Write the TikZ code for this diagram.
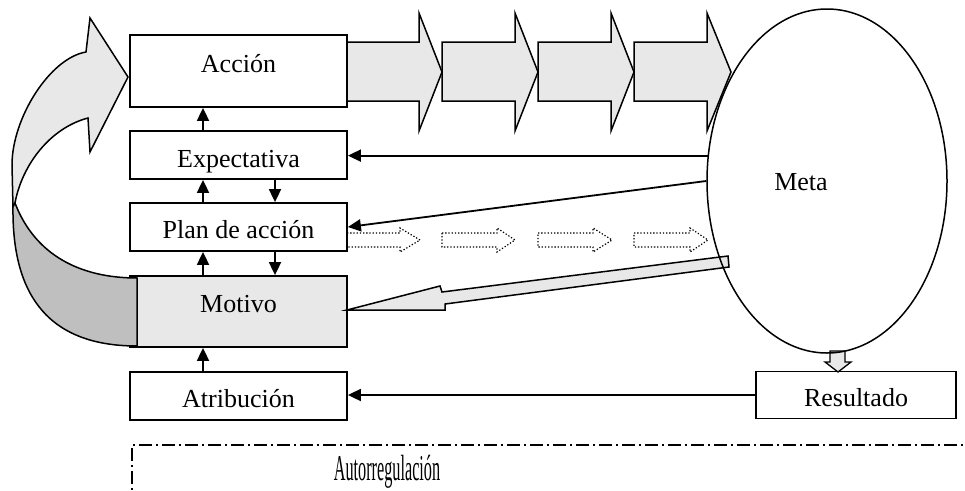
\documentclass[tikz,border=0pt]{standalone}
\usepackage{fontspec}
\setmainfont{Liberation Serif}
\usetikzlibrary{shapes.geometric,arrows.meta}
\definecolor{lightg}{HTML}{E8E8E8}
\definecolor{darkg}{HTML}{BFBFBF}
\begin{document}
\begin{tikzpicture}[x=1pt,y=-1pt,
  txt/.style={font=\fontsize{26}{28}\selectfont},
  box/.style={txt,draw,line width=1.8pt,fill=white,minimum width=217pt,inner sep=0pt},
  conn/.style={line width=1.8pt,-{Triangle[length=13pt,width=12pt]}},
  blockarrow/.style={draw,line width=1.5pt,fill=lightg,line join=miter},
  dotarrow/.style={draw,line width=1.2pt,dash pattern=on 1.3pt off 1.9pt},
  dashdot/.style={line width=1.5pt,dash pattern=on 13pt off 4pt on 2pt off 4pt}]
\useasboundingbox (0,0) rectangle (965,490);

% top chain of block arrows
\foreach \xa/\xb/\xc in {347/419/442, 442/515/538, 538/611/634, 634/707/731}{
  \path[blockarrow] (\xa,42) -- (\xb,42) -- (\xb,13) -- (\xc,72) -- (\xb,131) -- (\xb,101) -- (\xa,101) -- cycle;
}

% boxes
\node[box,minimum height=72pt,text height=20pt,text depth=18pt] (accion) at (238.5,71) {Acción};
\node[box,minimum height=48pt,text height=30pt,text depth=6pt] (expect) at (238.5,155) {Expectativa};
\node[box,minimum height=48pt,text height=28pt,text depth=6pt] (plan) at (238.5,227) {Plan de acción};
\node[box,fill=lightg,minimum height=71pt,text height=20pt,text depth=19pt] (motivo) at (238.5,311.5) {Motivo};
\node[box,minimum height=48pt,text height=28pt,text depth=6pt] (atrib) at (238.5,396) {Atribución};
\node[box,minimum width=200pt,minimum height=47pt,text height=28pt,text depth=6pt] (result) at (856,395) {Resultado};

% curved arrow on the left (light front face)
\path[draw,line width=1.5pt,fill=lightg,line join=miter]
  (128,77) -- (90,18) -- (86,52)
  .. controls (50,58) and (12,118) .. (12,165) -- (13,207)
  -- (15,203) .. controls (22,165) and (50,128) .. (88,118)
  -- (90,152) -- cycle;
% dark back face
\path[draw,line width=1.5pt,fill=darkg,line join=miter]
  (15,203) .. controls (35,255) and (80,278) .. (137,278)
  -- (137,346) .. controls (40,346) and (12,285) .. (13,207) -- cycle;

% dotted outline arrows
\foreach \xa/\xb/\xc in {347/400/420, 442/497/515, 538/593/612, 634/690/708}{
  \path[dotarrow] (\xa,233) -- (\xb,233) -- (\xb,228) -- (\xc,240) -- (\xb,252) -- (\xb,247) -- (\xa,247) -- cycle;
}

% wide arrow from Meta to Motivo
\path[blockarrow] (347,310) -- (440,286) -- (442,292) -- (728,256) -- (729,267) -- (445,304) -- (445,310) -- cycle;

% hollow arrow from Meta to Resultado
\path[blockarrow,line width=1.3pt] (830,351) -- (845,351) -- (845,362) -- (851,362) -- (838,372) -- (825,362) -- (830,362) -- cycle;

% Meta ellipse
\node[draw,ellipse,line width=1.5pt,minimum width=240pt,minimum height=344pt,inner sep=0pt] (meta) at (827,181) {};
\node[txt,anchor=base] (metatxt) at (801,190) {Meta};

% connectors
\coordinate (xu) at (203,0);
\coordinate (xd) at (275,0);
\draw[conn] (expect.north -| xu) -- (accion.south -| xu);
\draw[conn] (plan.north -| xu) -- (expect.south -| xu);
\draw[conn] (expect.south -| xd) -- (plan.north -| xd);
\draw[conn] (motivo.north -| xu) -- (plan.south -| xu);
\draw[conn] (plan.south -| xd) -- (motivo.north -| xd);
\draw[conn] (atrib.north -| xu) -- (motivo.south -| xu);
\draw[conn] (meta.168) -- (meta.168 -| expect.east);
\draw[conn] (meta.180) -- (plan.east);
\draw[conn] (result.west) -- (result.west -| atrib.east);

% Autorregulacion region
\coordinate (drtop) at (980,445);
\coordinate (drcorner) at (132,445);
\coordinate (drbottom) at (132,500);
\draw[dashdot] (drtop) -- (drcorner) -- (drbottom);
\node[anchor=base,inner sep=0pt] (autor) at (387,480) {\scalebox{0.58}[1.3]{\fontsize{28}{30}\selectfont Autorregulación}};
\end{tikzpicture}
\end{document}
